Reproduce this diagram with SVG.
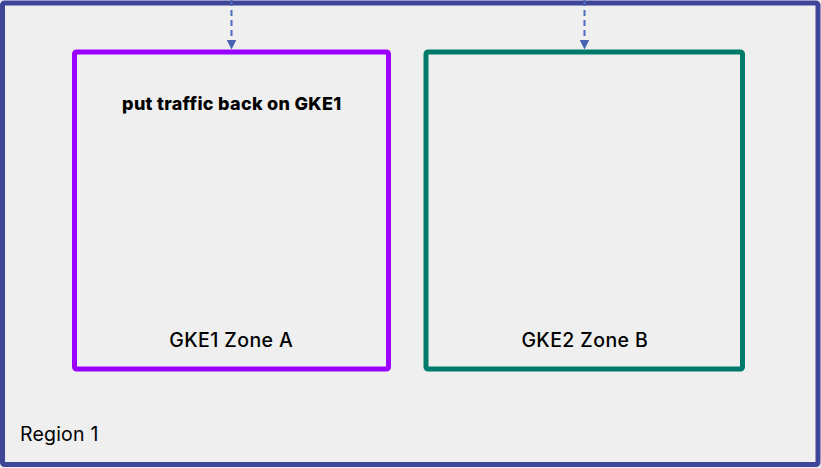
<svg xmlns="http://www.w3.org/2000/svg" width="821" height="468" viewBox="0 0 821 468">
<style>
.t{font-family:Inter,"Noto Sans","Liberation Sans",sans-serif;fill:#000}
.conn{stroke:#4A6DBE;stroke-width:2;stroke-dasharray:6 4;fill:none}
</style>
<defs>
<marker id="ah" markerWidth="10" markerHeight="12" refX="10" refY="5" orient="auto" markerUnits="userSpaceOnUse">
<path d="M0,0 L10,5 L0,10 Z" fill="#4463B4"/>
</marker>
</defs>
<rect width="821" height="468" fill="#EFEFEF"/>
<g id="region1">
<rect x="2.5" y="3" width="815.5" height="461.5" rx="2" fill="#EFEFEF" stroke="#3F4699" stroke-width="5"/>
<text class="t" x="20" y="441" font-size="19.5" letter-spacing="0.2">Region 1</text>
</g>
<g id="gke1">
<rect x="74.5" y="52" width="314" height="317" rx="2" fill="none" stroke="#9900FF" stroke-width="5"/>
<text class="t" x="231.8" y="109.5" font-size="18" font-weight="800" letter-spacing="0.3" text-anchor="middle">put traffic back on GKE1</text>
<text class="t" x="231.3" y="346.5" font-size="19.5" font-weight="500" letter-spacing="0.4" text-anchor="middle">GKE1 Zone A</text>
</g>
<g id="gke2">
<rect x="426" y="52" width="316.5" height="317" rx="2" fill="none" stroke="#007B6B" stroke-width="5"/>
<text class="t" x="584.8" y="346.5" font-size="19.5" font-weight="500" letter-spacing="0.4" text-anchor="middle">GKE2 Zone B</text>
</g>
<g id="connectors">
<line class="conn" x1="231.5" y1="0" x2="231.5" y2="49.5" marker-end="url(#ah)"/>
<line class="conn" x1="584.5" y1="0" x2="584.5" y2="49.5" marker-end="url(#ah)"/>
</g>
</svg>
